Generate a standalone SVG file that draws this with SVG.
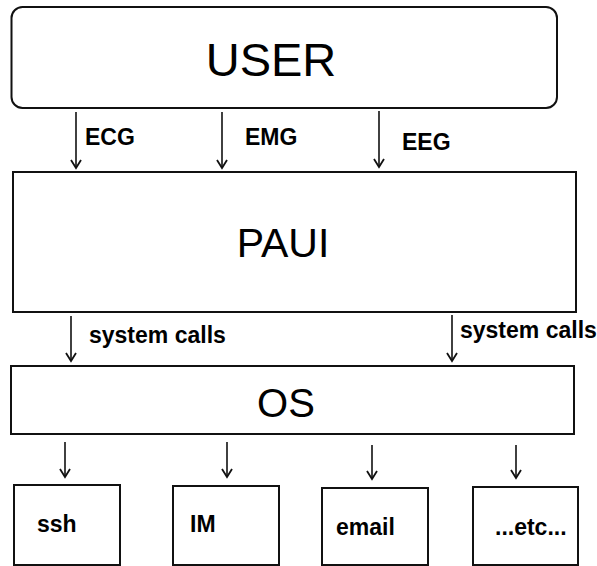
<svg xmlns="http://www.w3.org/2000/svg" width="597" height="566" viewBox="0 0 597 566">
<style>
.box{fill:#fff;stroke:#111;stroke-width:2}
.big{font-family:"Liberation Sans",Arial,sans-serif;fill:#000;text-anchor:middle}
.lbl{font-family:"Liberation Sans",Arial,sans-serif;font-weight:bold;font-size:23px;fill:#000}
.conn{stroke:#111;stroke-width:1.6;fill:none;marker-end:url(#ah)}
</style>
<defs>
<marker id="ah" viewBox="-10 -7 12 14" markerWidth="12" markerHeight="14" refX="0" refY="0" orient="auto" markerUnits="userSpaceOnUse">
<path d="M-8,-5 L0,0 L-8,5" fill="none" stroke="#111" stroke-width="1.8"/>
</marker>
</defs>
<rect width="597" height="566" fill="#fff"/>
<g id="user">
<rect class="box" x="11.5" y="7" width="545.5" height="101" rx="11"/>
<text class="big" x="271" y="76" font-size="47">USER</text>
</g>
<g id="paui">
<rect class="box" x="13" y="172" width="563" height="140"/>
<text class="big" x="283" y="257" font-size="41">PAUI</text>
</g>
<g id="os">
<rect class="box" x="11" y="366" width="563" height="68"/>
<text class="big" x="286" y="417" font-size="40">OS</text>
</g>
<g id="ssh">
<rect class="box" x="14" y="485" width="106" height="80"/>
<text class="lbl" x="37" y="532">ssh</text>
</g>
<g id="im">
<rect class="box" x="173" y="486" width="106" height="79"/>
<text class="lbl" x="190" y="532">IM</text>
</g>
<g id="email">
<rect class="box" x="322" y="488" width="106" height="77"/>
<text class="lbl" x="336" y="535">email</text>
</g>
<g id="etc">
<rect class="box" x="473" y="487" width="105" height="78"/>
<text class="lbl" x="495" y="535">...etc...</text>
</g>
<g id="connectors">
<line class="conn" x1="76" y1="112" x2="76" y2="168"/>
<line class="conn" x1="222" y1="112" x2="222" y2="168"/>
<line class="conn" x1="379" y1="111" x2="379" y2="167"/>
<text class="lbl" x="85" y="145">ECG</text>
<text class="lbl" x="245" y="145">EMG</text>
<text class="lbl" x="402" y="150">EEG</text>
<line class="conn" x1="71" y1="316" x2="71" y2="361"/>
<line class="conn" x1="452" y1="315" x2="452" y2="361"/>
<text class="lbl" x="89" y="343">system calls</text>
<text class="lbl" x="460" y="338">system calls</text>
<line class="conn" x1="65" y1="442" x2="65" y2="477"/>
<line class="conn" x1="227" y1="442" x2="227" y2="477"/>
<line class="conn" x1="372" y1="445" x2="372" y2="479"/>
<line class="conn" x1="516" y1="445" x2="516" y2="478"/>
</g>
</svg>
